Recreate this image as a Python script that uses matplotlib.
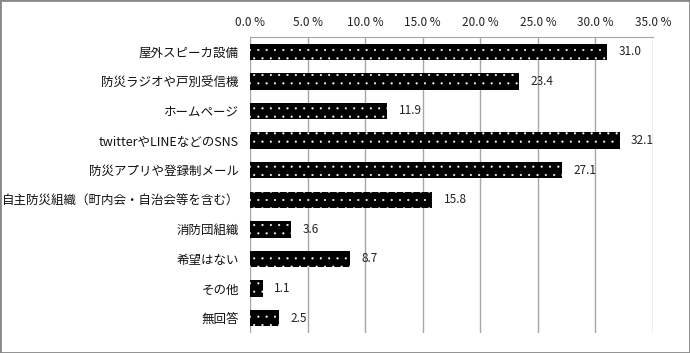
import matplotlib
matplotlib.use("Agg")
import matplotlib.pyplot as plt
from matplotlib.patches import Rectangle

plt.rcParams['font.family'] = ['Noto Sans CJK JP', 'DejaVu Sans']
plt.rcParams['hatch.color'] = 'white'
plt.rcParams['hatch.linewidth'] = 0.3

categories = ["屋外スピーカ設備", "防災ラジオや戸別受信機", "ホームページ",
              "twitterやLINEなどのSNS", "防災アプリや登録制メール",
              "自主防災組織（町内会・自治会等を含む）", "消防団組織",
              "希望はない", "その他", "無回答"]
values = [31.0, 23.4, 11.9, 32.1, 27.1, 15.8, 3.6, 8.7, 1.1, 2.5]
xticks = [0, 5, 10, 15, 20, 25, 30, 35]
xticklabels = ["0.0 %", "5.0 %", "10.0 %", "15.0 %", "20.0 %", "25.0 %", "30.0 %", "35.0 %"]

fig = plt.figure(figsize=(6.9, 3.53), dpi=100)
ax = fig.add_axes([250/690, 1 - 333/353, (653-250)/690, (333-37)/353])

y = list(range(len(categories)))
bars = ax.barh(y, values, height=0.55, color='black', edgecolor='white',
               linewidth=0, hatch='..', zorder=3)
for b, v in zip(bars, values):
    ax.text(b.get_width() + 1.0, b.get_y() + b.get_height()/2, f"{v:.1f}",
            va='center', ha='left', fontsize=8.5, color='#222222')

ax.set_xlim(0, 35)
ax.set_ylim(len(categories) - 0.5, -0.5)
ax.set_xticks(xticks)
ax.set_xticklabels(xticklabels, fontsize=8.5, color='#222222')
ax.xaxis.tick_top()
ax.tick_params(axis='x', length=0, pad=6)
ax.set_yticks(y)
ax.set_yticklabels(categories, fontsize=9, color='#111111')
ax.tick_params(axis='y', length=0, pad=8)
ax.grid(axis='x', color='#a6a6a6', linewidth=1, zorder=0)
for s in ['right', 'bottom', 'left']:
    ax.spines[s].set_visible(False)
ax.spines['top'].set_color('#a6a6a6')

fig.patches.append(Rectangle((0, 0), 1, 1, transform=fig.transFigure,
                             fill=False, edgecolor='#888888', linewidth=2))
fig.savefig("out.png", dpi=100)
